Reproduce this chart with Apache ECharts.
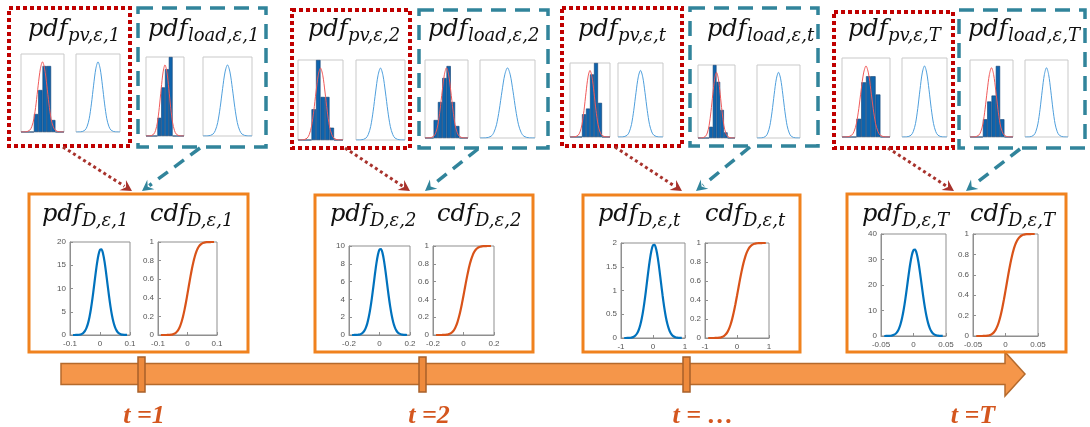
<!DOCTYPE html>
<html><head><meta charset="utf-8">
<script src="https://cdn.jsdelivr.net/npm/echarts@6.0.0/dist/echarts.min.js"></script>
<style>html,body{margin:0;padding:0;background:#fff}#c{width:1090px;height:427px}</style>
</head><body><div id="c"></div>
<script>
// ---------------- DATA ----------------
const timeLabels = ['t =1', 't =2', 't = …', 't =T'];
const stepIds = ['1', '2', 't', 'T'];

// main pdf / cdf panels
const pdfX1 = [-0.09,-0.085,-0.08,-0.075,-0.07,-0.065,-0.06,-0.055,-0.05,-0.045,-0.04,-0.035,-0.03,-0.025,-0.02,-0.015,-0.01,-0.005,0,0.005,0.01,0.015,0.02,0.025,0.03,0.035,0.04,0.045,0.05,0.055,0.06,0.065,0.07,0.075,0.08,0.085,0.09];
const pdfY1 = [0.00,0.00,0.01,0.03,0.06,0.12,0.25,0.49,0.89,1.53,2.50,3.88,5.70,7.92,10.44,13.03,15.41,17.26,18.32,18.42,17.54,15.83,13.53,10.96,8.41,6.11,4.21,2.75,1.70,0.99,0.55,0.29,0.14,0.07,0.03,0.01,0.01];
const cdfY1 = [0.0000,0.0000,0.0001,0.0001,0.0003,0.0008,0.0017,0.0035,0.0068,0.0128,0.0228,0.0386,0.0624,0.0964,0.1423,0.2013,0.2726,0.3549,0.4443,0.5371,0.6278,0.7116,0.7855,0.8468,0.8954,0.9316,0.9574,0.9746,0.9856,0.9922,0.9960,0.9980,0.9991,0.9996,0.9998,0.9999,1.0000];
const pdfX2 = [-0.18,-0.17,-0.16,-0.15,-0.14,-0.13,-0.12,-0.11,-0.10,-0.09,-0.08,-0.07,-0.06,-0.05,-0.04,-0.03,-0.02,-0.01,0,0.01,0.02,0.03,0.04,0.05,0.06,0.07,0.08,0.09,0.10,0.11,0.12,0.13,0.14,0.15,0.16,0.17,0.18];
const pdfY2 = [0.00,0.00,0.01,0.01,0.03,0.06,0.13,0.26,0.46,0.80,1.31,2.04,2.99,4.15,5.47,6.83,8.08,9.05,9.61,9.66,9.20,8.30,7.09,5.75,4.41,3.21,2.21,1.44,0.89,0.52,0.29,0.15,0.08,0.04,0.02,0.01,0.00];
const cdfY2 = [0.0000,0.0000,0.0001,0.0001,0.0003,0.0008,0.0017,0.0035,0.0068,0.0128,0.0228,0.0386,0.0624,0.0964,0.1423,0.2013,0.2726,0.3549,0.4443,0.5371,0.6278,0.7116,0.7855,0.8468,0.8954,0.9316,0.9574,0.9746,0.9856,0.9922,0.9960,0.9980,0.9991,0.9996,0.9998,0.9999,1.0000];
const pdfX3 = [-0.9,-0.85,-0.8,-0.75,-0.7,-0.65,-0.6,-0.55,-0.5,-0.45,-0.4,-0.35,-0.3,-0.25,-0.2,-0.15,-0.1,-0.05,0,0.05,0.1,0.15,0.2,0.25,0.3,0.35,0.4,0.45,0.5,0.55,0.6,0.65,0.7,0.75,0.8,0.85,0.9];
const pdfY3 = [0.000,0.000,0.001,0.003,0.006,0.013,0.027,0.052,0.094,0.163,0.267,0.414,0.607,0.844,1.111,1.388,1.641,1.838,1.951,1.962,1.868,1.686,1.441,1.167,0.895,0.651,0.448,0.293,0.181,0.106,0.059,0.031,0.015,0.007,0.003,0.001,0.001];
const cdfY3 = [0.0000,0.0000,0.0001,0.0001,0.0003,0.0008,0.0017,0.0035,0.0068,0.0128,0.0228,0.0386,0.0624,0.0964,0.1423,0.2013,0.2726,0.3549,0.4443,0.5371,0.6278,0.7116,0.7855,0.8468,0.8954,0.9316,0.9574,0.9746,0.9856,0.9922,0.9960,0.9980,0.9991,0.9996,0.9998,0.9999,1.0000];
const pdfX4 = [-0.045,-0.0425,-0.04,-0.0375,-0.035,-0.0325,-0.03,-0.0275,-0.025,-0.0225,-0.02,-0.0175,-0.015,-0.0125,-0.01,-0.0075,-0.005,-0.0025,0,0.0025,0.005,0.0075,0.01,0.0125,0.015,0.0175,0.02,0.0225,0.025,0.0275,0.03,0.0325,0.035,0.0375,0.04,0.0425,0.045];
const pdfY4 = [0.00,0.01,0.02,0.05,0.11,0.23,0.47,0.89,1.63,2.81,4.60,7.14,10.47,14.56,19.18,23.95,28.32,31.73,33.67,33.85,32.24,29.10,24.87,20.15,15.45,11.24,7.73,5.05,3.12,1.82,1.01,0.53,0.27,0.13,0.05,0.02,0.01];
const cdfY4 = [0.0000,0.0000,0.0001,0.0001,0.0003,0.0008,0.0017,0.0035,0.0068,0.0128,0.0228,0.0386,0.0624,0.0964,0.1423,0.2013,0.2726,0.3549,0.4443,0.5371,0.6278,0.7116,0.7855,0.8468,0.8954,0.9316,0.9574,0.9746,0.9856,0.9922,0.9960,0.9980,0.9991,0.9996,0.9998,0.9999,1.0000];

// tick labels
const xTicks1 = [-0.1, 0, 0.1],   pdfYTicks1 = [0, 5, 10, 15, 20];
const xTicks2 = [-0.2, 0, 0.2],   pdfYTicks2 = [0, 2, 4, 6, 8, 10];
const xTicks3 = [-1, 0, 1],       pdfYTicks3 = [0, 0.5, 1, 1.5, 2];
const xTicks4 = [-0.05, 0, 0.05], pdfYTicks4 = [0, 10, 20, 30, 40];
const cdfYTicks = [0, 0.2, 0.4, 0.6, 0.8, 1];

// small histograms (counts) in the pv / load boxes
const pvHist1 = [0,0,0,3,7,11,11,2,0,0];
const pvHist2 = [0,0,0,5,13,7,7,2,0,0];
const pvHist3 = [0,0,0,4,5,11,13,6,0,0];
const pvHist4 = [0,0,0,3,9,10,10,7,0,0];
const loadHist1 = [0,0,0,3,8,11,13,0,0,0];
const loadHist2 = [0,0,3,6,10,12,6,2,0,0];
const loadHist3 = [0,0,0,2,13,10,5,1,0,0];
const loadHist4 = [0,0,0,3,6,7,12,3,0,0];
// small fitted / kernel curves (normalised axis)
const smallCurveX = [0,0.1,0.2,0.25,0.3,0.35,0.4,0.45,0.5,0.55,0.6,0.65,0.7,0.75,0.8,0.9,1];
const smallCurveY = [0,0.001,0.022,0.068,0.17,0.36,0.60,0.81,0.9,0.81,0.60,0.36,0.17,0.068,0.022,0.001,0];

// ---------------- LAYOUT ----------------
const mainPanels = [
  {pdf:[70,242,60,93],  cdf:[158,242,59,93],  xs:pdfX1, py:pdfY1, cy:cdfY1, xt:xTicks1, pt:pdfYTicks1},
  {pdf:[349,246,61,89], cdf:[433,246,61,89],  xs:pdfX2, py:pdfY2, cy:cdfY2, xt:xTicks2, pt:pdfYTicks2},
  {pdf:[621,243,64,95], cdf:[705,243,64,95],  xs:pdfX3, py:pdfY3, cy:cdfY3, xt:xTicks3, pt:pdfYTicks3},
  {pdf:[881,234,65,102],cdf:[973,234,65,102], xs:pdfX4, py:pdfY4, cy:cdfY4, xt:xTicks4, pt:pdfYTicks4}
];
const smallPanels = [
  {ph:[21,54,43,78],  pp:[76,54,44,78],  lh:[146,57,38,79], lp:[203,57,49,79], pv:pvHist1, ld:loadHist1},
  {ph:[298,60,45,80], pp:[356,60,49,80], lh:[425,60,43,78], lp:[480,60,55,78], pv:pvHist2, ld:loadHist2},
  {ph:[570,63,40,74], pp:[618,63,45,74], lh:[698,65,37,73], lp:[757,65,43,73], pv:pvHist3, ld:loadHist3},
  {ph:[842,58,48,79], pp:[902,58,45,79], lh:[970,60,43,77], lp:[1025,60,43,77], pv:pvHist4, ld:loadHist4}
];
const redBoxes = [[9,8,121,138],[292,10,118,138],[562,8,120,138],[834,12,119,136]];
const tealBoxes = [[138,8,128,139],[419,10,129,138],[690,8,128,138],[959,10,126,138]];
const orangeBoxes = [[29,194,219,158],[315,195,218,157],[583,195,217,157],[847,194,219,158]];
const redArrows = [[[63,147],[132,191]],[[345,148],[410,191]],[[615,147],[682,191]],[[888,148],[954,191]]];
const tealArrows = [[[200,148],[142,191]],[[478,149],[425,191]],[[750,147],[696,191]],[[1020,149],[966,191]]];
const topTitlePos = [[28,68],[148,188],[308,348],[428,468],[578,618],[707,747],[848,888],[968,1008]];
const boxTitlePos = [[42,82],[150,187],[330,370],[437,475],[598,638],[705,743],[862,902],[970,1008]];
const timeTickX = [138, 419, 683];
const timeLabelX = [144, 429, 703, 973];

// ---------------- BUILD ----------------
const grids = [], xAxes = [], yAxes = [], series = [];
const AX = '#8f8f8f';
function addMain(rect, xt, yt, xs, ys, color) {
  const gi = grids.length;
  grids.push({left:rect[0], top:rect[1], width:rect[2], height:rect[3], show:true, borderColor:AX, borderWidth:1, backgroundColor:'#fff'});
  const common = {gridIndex:gi, type:'value', splitLine:{show:false},
    axisLine:{show:true, onZero:false, lineStyle:{color:AX, width:1}},
    axisTick:{show:true, inside:true, length:3, lineStyle:{color:AX}},
    axisLabel:{fontSize:8, color:'#555', fontFamily:'Liberation Sans', margin:5}};
  xAxes.push(Object.assign({}, common, {min:xt[0], max:xt[xt.length-1], interval:xt[1]-xt[0]}));
  yAxes.push(Object.assign({}, common, {min:yt[0], max:yt[yt.length-1], interval:yt[1]-yt[0],
    axisLabel:{fontSize:8, color:'#555', fontFamily:'Liberation Sans', margin:4}}));
  series.push({type:'line', xAxisIndex:xAxes.length-1, yAxisIndex:yAxes.length-1,
    data: xs.map((x,i)=>[x, ys[i]]), showSymbol:false, smooth:0.25,
    lineStyle:{color:color, width:2.2}, silent:true});
}
function addHist(rect, hist) {
  const gi = grids.length;
  grids.push({left:rect[0], top:rect[1], width:rect[2], height:rect[3], show:true, borderColor:'#c9c9c9', borderWidth:1, backgroundColor:'#fff'});
  const xc = xAxes.length;
  xAxes.push({gridIndex:gi, type:'category', data:hist.map((_,i)=>i), show:false, boundaryGap:true});
  xAxes.push({gridIndex:gi, type:'value', min:0, max:1, show:false});
  const yc = yAxes.length;
  yAxes.push({gridIndex:gi, type:'value', min:0, max:13, show:false});
  yAxes.push({gridIndex:gi, type:'value', min:0, max:1, show:false});
  series.push({type:'bar', xAxisIndex:xc, yAxisIndex:yc, data:hist, barCategoryGap:'0%',
    itemStyle:{color:'#0e64ad', borderColor:'#123e70', borderWidth:0.6}, silent:true});
  series.push({type:'line', xAxisIndex:xc+1, yAxisIndex:yc+1, data:smallCurveX.map((x,i)=>[x, smallCurveY[i]]),
    showSymbol:false, smooth:0.3, lineStyle:{color:'#f05a5a', width:1}, silent:true, z:3});
}
function addSmallPdf(rect) {
  const gi = grids.length;
  grids.push({left:rect[0], top:rect[1], width:rect[2], height:rect[3], show:true, borderColor:'#c9c9c9', borderWidth:1, backgroundColor:'#fff'});
  xAxes.push({gridIndex:gi, type:'value', min:0, max:1, show:false});
  yAxes.push({gridIndex:gi, type:'value', min:0, max:1, show:false});
  series.push({type:'line', xAxisIndex:xAxes.length-1, yAxisIndex:yAxes.length-1,
    data:smallCurveX.map((x,i)=>[x, smallCurveY[i]]), showSymbol:false, smooth:0.3,
    lineStyle:{color:'#4f9fdc', width:1}, silent:true});
}
mainPanels.forEach(p => {
  addMain(p.pdf, p.xt, p.pt, p.xs, p.py, '#0072BD');
  addMain(p.cdf, p.xt, cdfYTicks, p.xs, p.cy, '#D95319');
});
smallPanels.forEach(p => {
  addHist(p.ph, p.pv); addSmallPdf(p.pp); addHist(p.lh, p.ld); addSmallPdf(p.lp);
});

const els = [];
function box(r, stroke, lw, dash) {
  els.push({type:'rect', shape:{x:r[0], y:r[1], width:r[2], height:r[3]}, style:{fill:'none', stroke:stroke, lineWidth:lw, lineDash:dash}, z:10});
}
redBoxes.forEach(r => box(r, '#c00000', 4, [4,3]));
tealBoxes.forEach(r => box(r, '#31849b', 3.5, [15,9]));
orangeBoxes.forEach(r => box(r, '#f0821e', 3, null));
function arrow(a, color, dash, lw) {
  const [s, t] = a; const dx = t[0]-s[0], dy = t[1]-s[1]; const L = Math.hypot(dx, dy);
  const ux = dx/L, uy = dy/L, nx = -uy, ny = ux; const hl = 11, hw = 6;
  const bx = t[0]-ux*hl, by = t[1]-uy*hl;
  els.push({type:'line', shape:{x1:s[0], y1:s[1], x2:bx+ux*2, y2:by+uy*2}, style:{stroke:color, lineWidth:lw, lineDash:dash}, z:10});
  els.push({type:'polygon', shape:{points:[[t[0],t[1]],[bx+nx*hw,by+ny*hw],[t[0]-ux*hl*0.65,t[1]-uy*hl*0.65],[bx-nx*hw,by-ny*hw]]}, style:{fill:color}, z:10});
}
redArrows.forEach(a => arrow(a, '#a8322c', [3,3], 3));
tealArrows.forEach(a => arrow(a, '#31849b', [12,8], 3.5));

// titles
function title(x, subX, base, subBase, main, sub) {
  els.push({type:'text', x:x, y:base-8.3, style:{text:main, fontStyle:'italic', fontSize:24, fontFamily:'DejaVu Serif', fill:'#111', textAlign:'left', verticalAlign:'middle', textVerticalAlign:'middle'}, z:11});
  els.push({type:'text', x:subX, y:subBase-6.2, style:{text:sub, fontStyle:'italic', fontSize:18, fontFamily:'DejaVu Serif', fill:'#111', textAlign:'left', verticalAlign:'middle', textVerticalAlign:'middle'}, z:11});
}
stepIds.forEach((id, i) => {
  const a = topTitlePos[2*i], b = topTitlePos[2*i+1];
  title(a[0], a[1], 38, 43, 'pdf', 'pv,ε,' + id);
  title(b[0], b[1], 38, 43, 'pdf', 'load,ε,' + id);
  const c = boxTitlePos[2*i], d = boxTitlePos[2*i+1];
  title(c[0], c[1], 223, 228, 'pdf', 'D,ε,' + id);
  title(d[0], d[1], 223, 228, 'cdf', 'D,ε,' + id);
});

// time arrow
els.push({type:'polygon', shape:{points:[[61,363.5],[1005,363.5],[1005,352],[1025,374],[1005,396],[1005,384.5],[61,384.5]]},
  style:{fill:'#f5964a', stroke:'#b56a2c', lineWidth:1.5}, z:5});
timeTickX.forEach(x => els.push({type:'rect', shape:{x:x, y:357, width:7, height:35}, style:{fill:'#ee8a3c', stroke:'#a8602a', lineWidth:1.5}, z:6}));
timeLabels.forEach((t, i) => els.push({type:'text', x:timeLabelX[i], y:416,
  style:{text:t, fontStyle:'italic', fontWeight:'bold', fontSize:26, fontFamily:'Liberation Serif', fill:'#d4561e', textAlign:'center', verticalAlign:'middle', textVerticalAlign:'middle'}, z:6}));

const chart = echarts.init(document.getElementById('c'), null, {renderer:'canvas'});
chart.setOption({animation:false, backgroundColor:'#fff', grid:grids, xAxis:xAxes, yAxis:yAxes, series:series, graphic:{elements:els}});
</script></body></html>
